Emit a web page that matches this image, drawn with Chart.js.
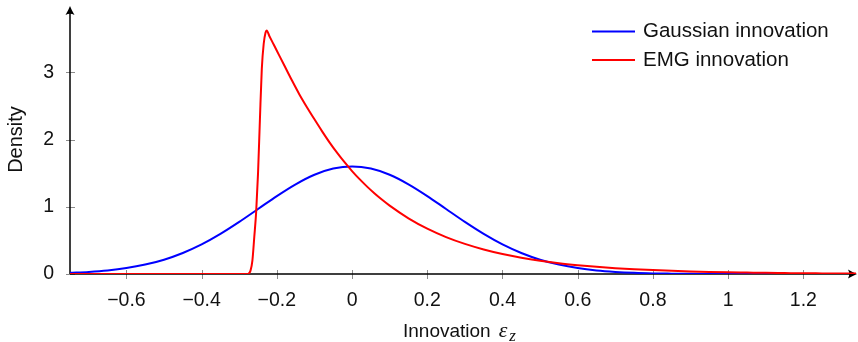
<!DOCTYPE html>
<html>
<head>
<meta charset="utf-8">
<script src="https://cdn.jsdelivr.net/npm/chart.js@4.4.0/dist/chart.umd.min.js"></script>
<style>
  html, body { margin: 0; padding: 0; background: #fff; overflow: hidden; }
</style>
</head>
<body>
<canvas id="densityChart" width="858" height="342"></canvas>
<script>
// values
const gaussX = [-0.75, -0.70, -0.65, -0.60, -0.55, -0.50, -0.45, -0.40, -0.35, -0.30, -0.25, -0.20, -0.15, -0.10, -0.05,
  0, 0.05, 0.10, 0.15, 0.20, 0.25, 0.30, 0.35, 0.40, 0.45, 0.50, 0.55, 0.60, 0.65, 0.70, 0.75, 0.80, 0.85, 0.90, 0.95,
  1.00, 1.10, 1.20, 1.35];
const gaussY = [0.017, 0.031, 0.053, 0.088, 0.140, 0.213, 0.313, 0.440, 0.596, 0.774, 0.966, 1.159, 1.334, 1.476, 1.568,
  1.600, 1.568, 1.476, 1.334, 1.159, 0.966, 0.774, 0.596, 0.440, 0.313, 0.213, 0.140, 0.088, 0.053, 0.031, 0.017, 0.009, 0.005, 0.002, 0.001,
  0.0005, 0.0001, 0, 0];

const emgX = [-0.75, -0.28, -0.275, -0.27, -0.265, -0.26, -0.255, -0.25, -0.245, -0.24, -0.235, -0.23, -0.227,
  -0.22, -0.21, -0.20, -0.19, -0.18, -0.16, -0.14, -0.12, -0.10, -0.08, -0.06, -0.04, -0.02,
  0, 0.02, 0.04, 0.06, 0.08, 0.10, 0.15, 0.20, 0.25, 0.30, 0.35, 0.40, 0.45, 0.50, 0.55, 0.60, 0.65, 0.70,
  0.75, 0.80, 0.85, 0.90, 0.95, 1.00, 1.05, 1.10, 1.15, 1.20, 1.25, 1.30, 1.35];
const emgY = [0, 0, 0.005, 0.05, 0.2, 0.55, 0.92, 1.5, 2.3, 3.05, 3.42, 3.59, 3.62,
  3.54, 3.43, 3.32, 3.21, 3.10, 2.88, 2.67, 2.48, 2.30, 2.125, 1.958, 1.804, 1.662,
  1.531, 1.41, 1.299, 1.197, 1.103, 1.016, 0.828, 0.674, 0.549, 0.448, 0.365, 0.297, 0.242, 0.197, 0.160, 0.131, 0.107, 0.087,
  0.071, 0.058, 0.047, 0.038, 0.031, 0.025, 0.021, 0.017, 0.014, 0.011, 0.009, 0.007, 0.006];

const xTicks = [-0.6, -0.4, -0.2, 0, 0.2, 0.4, 0.6, 0.8, 1, 1.2];
const yTicks = [0, 1, 2, 3];
const seriesNames = ['Gaussian innovation', 'EMG innovation'];
const seriesColors = ['#0000ff', '#ff0000'];

const FONT = '"Liberation Sans", Arial, sans-serif';

function toPoints(xs, ys) {
  return xs.map((x, i) => ({ x: x, y: ys[i] }));
}

function fmtTick(v) {
  const s = String(Math.abs(v));
  return v < 0 ? '\u2212' + s : s;
}

// latex style arrow head
function arrowHead(ctx, x, y, angle) {
  ctx.save();
  ctx.translate(x, y);
  ctx.rotate(angle);
  ctx.beginPath();
  ctx.moveTo(0, 0);
  ctx.quadraticCurveTo(-4, -1.5, -9, -4.5);
  ctx.quadraticCurveTo(-6.5, 0, -9, 4.5);
  ctx.quadraticCurveTo(-4, 1.5, 0, 0);
  ctx.closePath();
  ctx.fillStyle = '#000';
  ctx.fill();
  ctx.restore();
}

const axisPlugin = {
  id: 'axisLines',
  beforeDatasetsDraw(chart) {
    const { ctx, chartArea: a, scales } = chart;
    ctx.save();
    // tick marks
    ctx.strokeStyle = '#8c8c8c';
    ctx.lineWidth = 1;
    xTicks.forEach(v => {
      const px = Math.round(scales.x.getPixelForValue(v)) + 0.5;
      ctx.beginPath();
      ctx.moveTo(px, a.bottom - 4);
      ctx.lineTo(px, a.bottom + 5);
      ctx.stroke();
    });
    yTicks.forEach(v => {
      const py = Math.round(scales.y.getPixelForValue(v)) + 0.5;
      ctx.beginPath();
      ctx.moveTo(a.left - 4, py);
      ctx.lineTo(a.left + 5, py);
      ctx.stroke();
    });
    // axis lines
    ctx.strokeStyle = '#000';
    ctx.lineWidth = 1.5;
    ctx.beginPath();
    ctx.moveTo(a.left, a.bottom);
    ctx.lineTo(a.right - 4, a.bottom);
    ctx.moveTo(a.left, a.bottom);
    ctx.lineTo(a.left, a.top + 4);
    ctx.stroke();
    arrowHead(ctx, a.right + 1, a.bottom, 0);
    arrowHead(ctx, a.left, a.top + 1, -Math.PI / 2);
    ctx.restore();
  },
  afterDraw(chart) {
    const { ctx } = chart;
    ctx.save();
    // legend
    ctx.font = '20.5px ' + FONT;
    ctx.textBaseline = 'middle';
    ctx.fillStyle = '#111';
    ctx.lineWidth = 2;
    const rows = [31.5, 60];
    seriesNames.forEach((name, i) => {
      ctx.strokeStyle = seriesColors[i];
      ctx.beginPath();
      ctx.moveTo(592, rows[i]);
      ctx.lineTo(635, rows[i]);
      ctx.stroke();
      ctx.fillText(name, 643, rows[i]);
    });
    // x axis title with subscript
    ctx.textBaseline = 'alphabetic';
    ctx.font = '19px ' + FONT;
    const t = 'Innovation';
    ctx.fillText(t, 403, 337);
    let xx = 403 + ctx.measureText(t).width + 8;
    ctx.font = 'italic 22px "Liberation Serif", serif';
    ctx.fillText('\u03b5', xx, 337);
    xx += ctx.measureText('\u03b5').width + 2;
    ctx.font = 'italic 17px "Liberation Serif", serif';
    ctx.fillText('z', xx, 341);
    ctx.restore();
  }
};

new Chart(document.getElementById('densityChart'), {
  type: 'line',
  data: {
    datasets: [{
      label: seriesNames[0],
      data: toPoints(gaussX, gaussY),
      borderColor: seriesColors[0],
      borderWidth: 2,
      pointRadius: 0,
      cubicInterpolationMode: 'monotone',
      order: 1
    }, {
      label: seriesNames[1],
      data: toPoints(emgX, emgY),
      borderColor: seriesColors[1],
      borderWidth: 2,
      pointRadius: 0,
      cubicInterpolationMode: 'monotone',
      order: 0
    }]
  },
  options: {
    responsive: false,
    animation: false,
    devicePixelRatio: 1,
    layout: { padding: { left: 0, right: 2, top: 5, bottom: 0 } },
    plugins: { legend: { display: false }, tooltip: { enabled: false } },
    scales: {
      x: {
        type: 'linear',
        min: -0.75,
        max: 1.34,
        grid: { display: false },
        border: { display: false },
        afterBuildTicks: s => { s.ticks = xTicks.map(v => ({ value: v })); },
        afterFit: s => { s.height = 68; s.paddingLeft = 0; s.paddingRight = 0; },
        ticks: {
          autoSkip: false,
          maxRotation: 0,
          padding: 7,
          color: '#111',
          font: { family: FONT, size: 19.5 },
          callback: v => fmtTick(v)
        }
      },
      y: {
        min: 0,
        max: 4,
        grid: { display: false },
        border: { display: false },
        afterBuildTicks: s => { s.ticks = yTicks.map(v => ({ value: v })); },
        afterFit: s => { s.width = 70; s.paddingTop = 0; s.paddingBottom = 0; },
        title: {
          display: true,
          text: 'Density',
          color: '#111',
          font: { family: FONT, size: 20 },
          padding: { top: 4, bottom: 0 }
        },
        ticks: {
          padding: 8,
          color: '#111',
          font: { family: FONT, size: 19.5 },
          callback: v => fmtTick(v)
        }
      }
    }
  },
  plugins: [axisPlugin]
});
</script>
</body>
</html>
